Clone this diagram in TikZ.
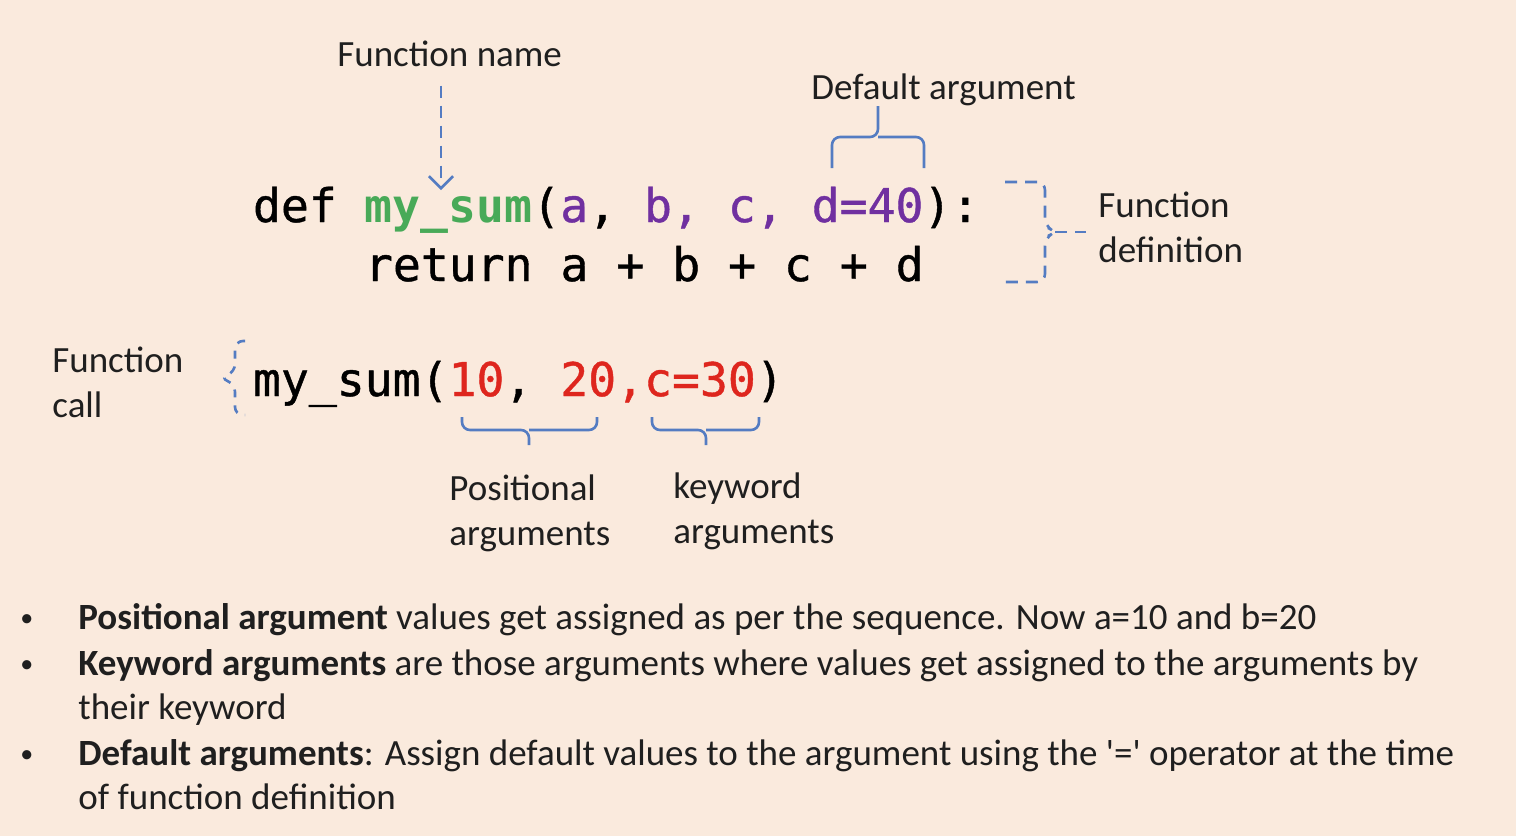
\documentclass[tikz,border=0pt]{standalone}
\usepackage{fontspec}
\setmainfont{Carlito}
\newfontfamily\codefont{DejaVu Sans Mono}[FakeBold=0.9]
\newfontfamily\codebold{DejaVu Sans Mono Bold}
\usetikzlibrary{arrows.meta}
\definecolor{bgpeach}{RGB}{250,234,221}
\definecolor{fngreen}{RGB}{72,170,88}
\definecolor{argpurple}{RGB}{112,48,160}
\definecolor{valred}{RGB}{222,38,30}
\definecolor{bracecol}{RGB}{84,124,194}
\begin{document}
\begin{tikzpicture}[
        x=0.5pt, y=-0.5pt,
        % text styles
        code/.style={anchor=base west, inner sep=0pt, outer sep=0pt,
            font=\codefont\fontsize{23.2}{28}\selectfont},
        lbl/.style={anchor=base west, inner sep=0pt, align=left, text=black!88,
            font=\fontsize{18.5}{22.5}\selectfont},
        btxt/.style={anchor=base west, inner sep=0pt, align=left, text=black!88,
            font=\fontsize{18.5}{22}\selectfont},
        % brace styles
        brace/.style={bracecol, line width=1.3pt, rounded corners=4pt},
        dbrace/.style={brace, dash pattern=on 6pt off 4pt},
    ]

    % background and margins
    \fill[bgpeach] (0,0) rectangle (1516,836);
    \useasboundingbox (0,0) rectangle (1516,836);

    % function definition
    \node[code] (kwdef) at (253,222) {def\ \kern0pt};
    \node[code, text=fngreen, font=\codebold\fontsize{23.2}{28}\selectfont]
        (fname) at (kwdef.base east) {my\_sum};
    \node[code] (params) at (fname.base east)
        {(\textcolor{argpurple}{a},\ \textcolor{argpurple}{b,}\ \textcolor{argpurple}{c,}\ \kern0pt};
    \node[code, text=argpurple] (dflt) at (params.base east) {d=40};
    \node[code] (close) at (dflt.base east) {):};
    \node[code] (ret) at (365,281) {return a + b + c + d};

    % function call
    \node[code] (callf) at (253,396) {my\_sum(};
    \node[code] (posargs) at (callf.base east)
        {\textcolor{valred}{10},\ \textcolor{valred}{20,}};
    \node[code, text=valred] (kwargs) at (posargs.base east) {c=30};
    \node[code] (callend) at (kwargs.base east) {)};

    % labels (base = last line)
    \node[lbl] (fnlbl) at (337,66) {Function name};
    \node[lbl] (dflbl) at (811,99) {Default argument};
    \node[lbl] (deflbl) at (1098,262) {Function\\definition};
    \node[lbl] (calllbl) at (52,417) {Function\\call};
    \node[lbl] (poslbl) at (449,545) {Positional\\arguments};
    \node[lbl] (kwlbl) at (673,543) {keyword\\arguments};

    % arrow to the function name
    \coordinate (fntip) at (441,190);
    \draw[dbrace, -{Straight Barb[length=6pt,width=12pt]}] (fnlbl.south -| fntip) ++(0,19) -- (fntip);

    % braces
    \draw[brace] (832,168) -- (832,137) -- (878,137) -- (878,106);
    \draw[brace] (878,137) -- (924,137) -- (924,168);
    \draw[brace] (462,417) -- (462,430) -- (529,430) -- (529,445);
    \draw[brace] (529,430) -- (597,430) -- (597,417);
    \draw[brace] (652,417) -- (652,430) -- (706,430) -- (706,445);
    \draw[brace] (706,430) -- (759,430) -- (759,417);
    \coordinate (deftip) at (1055,232);
    \draw[dbrace] (1005,182) -- (1045,182) -- (1045,226) -- (deftip)
        -- (1045,238) -- (1045,282) -- (1005,282);
    \draw[dbrace] (deftip) -- ([xshift=-6pt]deflbl.west |- deftip);
    \coordinate (calltip) at (220,378);
    \draw[dbrace, dash pattern=on 4pt off 4pt] (245,341) -- (235,341) -- (235,372) -- (calltip)
        -- (235,384) -- (235,415) -- (245,415);

    % bullet list
    \foreach \by/\bn in {629/1,675/2,765/3}
        \node[btxt, font=\fontsize{13}{13}\selectfont] (bul\bn) at (20,\by-3) {•};
    \node[btxt] (item1) at (78,629) {\textbf{Positional argument} values get assigned as per the sequence. Now a=10 and b=20};
    \node[btxt] (item2) at (78,719) {\textbf{Keyword arguments} are those arguments where values get assigned to the arguments by\\their keyword};
    \node[btxt] (item3) at (78,809) {\textbf{Default arguments}: Assign default values to the argument using the \textquotesingle=\textquotesingle{} operator at the time\\of function definition};
\end{tikzpicture}
\end{document}
